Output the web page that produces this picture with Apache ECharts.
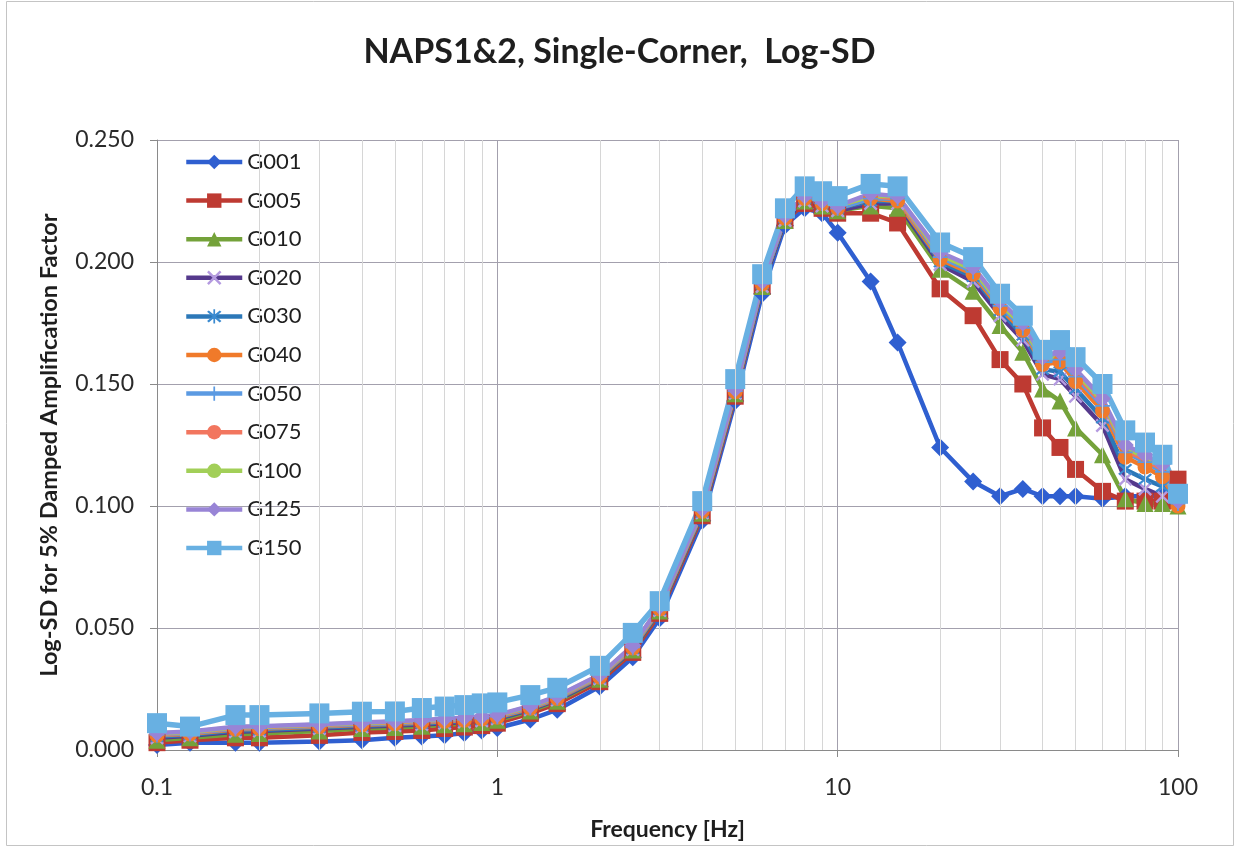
<!DOCTYPE html>
<html>
<head>
<meta charset="utf-8">
<script src="https://cdn.jsdelivr.net/npm/echarts@6/dist/echarts.min.js"></script>
<style>
html,body{margin:0;padding:0;background:#fff;}
#chart{width:1239px;height:848px;}
</style>
</head>
<body>
<div id="chart"></div>
<script>
const freqs = [0.1, 0.125, 0.17, 0.2, 0.3, 0.4, 0.5, 0.6, 0.7, 0.8, 0.9, 1, 1.25, 1.5, 2, 2.5, 3, 4, 5,
  6, 7, 8, 9, 10, 12.5, 15,
  20, 25, 30, 35, 40, 45, 50, 60, 70, 80, 90, 100];

const G001 = [0.002, 0.003, 0.003, 0.003, 0.0035, 0.004, 0.005, 0.0055, 0.006, 0.007, 0.008, 0.009, 0.0125, 0.0165, 0.026, 0.038, 0.054, 0.094, 0.143,
  0.187, 0.215, 0.222, 0.220, 0.212, 0.192, 0.167,
  0.124, 0.110, 0.104, 0.107, 0.104, 0.104, 0.104, 0.103, 0.104, 0.104, 0.104, 0.105];
const G005 = [0.003, 0.004, 0.005, 0.005, 0.006, 0.0072, 0.0076, 0.008, 0.0088, 0.0094, 0.010, 0.011, 0.015, 0.019, 0.028, 0.040, 0.056, 0.096, 0.145,
  0.190, 0.217, 0.224, 0.222, 0.220, 0.220, 0.216,
  0.189, 0.178, 0.160, 0.150, 0.132, 0.124, 0.115, 0.106, 0.102, 0.102, 0.102, 0.111];
const G010 = [0.004, 0.005, 0.0065, 0.0068, 0.0078, 0.0088, 0.0092, 0.0097, 0.0103, 0.0108, 0.0113, 0.0122, 0.0160, 0.0200, 0.0290, 0.0410, 0.0570, 0.0970, 0.1460,
  0.190, 0.217, 0.225, 0.223, 0.221, 0.223, 0.222,
  0.197, 0.188, 0.174, 0.163, 0.148, 0.143, 0.132, 0.121, 0.103, 0.101, 0.101, 0.100];
const G020 = [0.005, 0.0058, 0.0075, 0.0078, 0.0088, 0.0095, 0.0100, 0.0105, 0.0110, 0.0115, 0.0120, 0.0128, 0.0165, 0.0205, 0.0292, 0.0412, 0.0572, 0.0972, 0.1462,
  0.190, 0.217, 0.225, 0.223, 0.221, 0.224, 0.224,
  0.199, 0.192, 0.178, 0.168, 0.154, 0.152, 0.145, 0.133, 0.111, 0.107, 0.104, 0.102];
const G030 = [0.0055, 0.0062, 0.008, 0.0082, 0.0092, 0.0099, 0.0104, 0.0109, 0.0114, 0.0119, 0.0124, 0.0131, 0.0168, 0.0208, 0.0295, 0.0415, 0.0575, 0.0975, 0.1465,
  0.191, 0.218, 0.226, 0.224, 0.222, 0.225, 0.225,
  0.200, 0.194, 0.180, 0.170, 0.156, 0.155, 0.148, 0.136, 0.115, 0.111, 0.108, 0.102];
const G040 = [0.006, 0.0066, 0.0085, 0.0087, 0.0096, 0.0103, 0.0108, 0.0113, 0.0118, 0.0122, 0.0127, 0.0134, 0.0171, 0.0211, 0.0298, 0.0418, 0.0578, 0.0978, 0.1468,
  0.191, 0.218, 0.226, 0.224, 0.222, 0.226, 0.225,
  0.201, 0.195, 0.181, 0.172, 0.158, 0.159, 0.151, 0.139, 0.120, 0.116, 0.112, 0.100];
const G050 = [0.0063, 0.0069, 0.0088, 0.009, 0.0099, 0.0106, 0.0111, 0.0116, 0.0121, 0.0125, 0.013, 0.0137, 0.0174, 0.0214, 0.0301, 0.0421, 0.0581, 0.0981, 0.1471,
  0.191, 0.218, 0.226, 0.224, 0.222, 0.226, 0.226,
  0.202, 0.196, 0.182, 0.173, 0.159, 0.160, 0.153, 0.141, 0.122, 0.118, 0.114, 0.101];
const G075 = [0.0066, 0.0072, 0.0091, 0.0093, 0.0102, 0.0109, 0.0114, 0.0119, 0.0124, 0.0128, 0.0133, 0.014, 0.0177, 0.0217, 0.0304, 0.0424, 0.0584, 0.0984, 0.1474,
  0.192, 0.219, 0.227, 0.225, 0.223, 0.227, 0.226,
  0.203, 0.197, 0.183, 0.174, 0.160, 0.162, 0.154, 0.142, 0.123, 0.119, 0.115, 0.101];
const G100 = [0.0068, 0.0074, 0.0093, 0.0095, 0.0104, 0.0111, 0.0116, 0.0121, 0.0126, 0.013, 0.0135, 0.0142, 0.0179, 0.0219, 0.0306, 0.0426, 0.0586, 0.0986, 0.1476,
  0.192, 0.219, 0.227, 0.225, 0.223, 0.227, 0.227,
  0.203, 0.197, 0.183, 0.174, 0.160, 0.162, 0.155, 0.143, 0.124, 0.120, 0.116, 0.101];
const G125 = [0.007, 0.0076, 0.0095, 0.0097, 0.0106, 0.0113, 0.0118, 0.0123, 0.0128, 0.0132, 0.0137, 0.0144, 0.0181, 0.0221, 0.0308, 0.0428, 0.0588, 0.0988, 0.1478,
  0.192, 0.219, 0.227, 0.225, 0.223, 0.228, 0.227,
  0.204, 0.198, 0.184, 0.175, 0.161, 0.163, 0.156, 0.144, 0.125, 0.121, 0.117, 0.102];
const G150 = [0.011, 0.0096, 0.0143, 0.0143, 0.015, 0.0157, 0.0158, 0.0172, 0.0178, 0.0184, 0.0191, 0.0195, 0.0225, 0.0255, 0.0345, 0.048, 0.061, 0.102, 0.152,
  0.195, 0.222, 0.231, 0.229, 0.227, 0.232, 0.231,
  0.208, 0.202, 0.187, 0.178, 0.164, 0.168, 0.161, 0.150, 0.131, 0.126, 0.121, 0.105];

const seriesNames = ['G001','G005','G010','G020','G030','G040','G050','G075','G100','G125','G150'];
const seriesValues = [G001,G005,G010,G020,G030,G040,G050,G075,G100,G125,G150];

const yTicks = [0, 0.05, 0.10, 0.15, 0.20, 0.25];
const minorGridFreqs = [0.2,0.3,0.4,0.5,0.6,0.7,0.8,0.9, 2,3,4,5,6,7,8,9, 20,30,40,50,60,70,80,90];

const XPATH = 'path://M0,1.2 L1.2,0 L5,3.8 L8.8,0 L10,1.2 L6.2,5 L10,8.8 L8.8,10 L5,6.2 L1.2,10 L0,8.8 L3.8,5 Z';
const ASTPATH = 'path://M0,1.2 L1.2,0 L5,3.8 L8.8,0 L10,1.2 L6.2,5 L10,8.8 L8.8,10 L5,6.2 L1.2,10 L0,8.8 L3.8,5 Z M4.4,-1 L5.6,-1 L5.6,11 L4.4,11 Z';
const PLUSPATH = 'path://M4.4,0 L5.6,0 L5.6,4.4 L10,4.4 L10,5.6 L5.6,5.6 L5.6,10 L4.4,10 L4.4,5.6 L0,5.6 L0,4.4 L4.4,4.4 Z';

const styles = {
  G001: {line:'#2f5fd0', mark:'#2f5fd0', symbol:'diamond', size:18, width:4.5},
  G005: {line:'#be3a32', mark:'#be3a32', symbol:'rect', size:17, width:4.5},
  G010: {line:'#74a23a', mark:'#74a23a', symbol:'triangle', size:17, width:4.5},
  G020: {line:'#55398c', mark:'#b49ae0', symbol:XPATH, size:14, width:4.5},
  G030: {line:'#2c78b8', mark:'#3a8ad0', symbol:ASTPATH, size:14, width:4.5},
  G040: {line:'#f07a2a', mark:'#f07a2a', symbol:'circle', size:15, width:4.5},
  G050: {line:'#5b9ae2', mark:'#5b9ae2', symbol:PLUSPATH, size:15, width:4.5},
  G075: {line:'#f2765f', mark:'#f2765f', symbol:'none', size:0, width:4.5},
  G100: {line:'#a2cf58', mark:'#a2cf58', symbol:'none', size:0, width:4.5},
  G125: {line:'#9884d6', mark:'#9884d6', symbol:'diamond', size:17, width:4.5},
  G150: {line:'#68b0e2', mark:'#68b0e2', symbol:'rect', size:20, width:5.5}
};

const FONT = 'Lato, "Open Sans", sans-serif';

const series = seriesNames.map((name, i) => {
  const st = styles[name];
  return {
    name: name,
    type: 'line',
    data: freqs.map((f, j) => [f, seriesValues[i][j]]),
    symbol: st.symbol,
    symbolSize: st.size,
    showSymbol: st.symbol !== 'none',
    lineStyle: {color: st.line, width: st.width},
    itemStyle: {color: st.mark},
    z: 3,
    animation: false
  };
});

series.unshift({
  name: '__grid',
  type: 'line',
  data: [],
  silent: true,
  z: 1,
  animation: false,
  markLine: {
    silent: true,
    symbol: ['none','none'],
    label: {show: false},
    lineStyle: {color: '#d6d6d6', width: 1, type: 'solid'},
    data: minorGridFreqs.map(f => ({xAxis: f}))
  }
});

const chart = echarts.init(document.getElementById('chart'), null, {renderer: 'canvas'});
chart.setOption({
  backgroundColor: '#ffffff',
  animation: false,
  title: {
    text: 'NAPS1&2, Single-Corner,  Log-SD',
    left: 'center',
    top: 30,
    textStyle: {fontFamily: FONT, fontSize: 34, fontWeight: 'bold', color: '#1e1e1e'}
  },
  graphic: [{
    type: 'rect', shape: {x: 6.5, y: 1.5, width: 1227, height: 844},
    style: {fill: 'none', stroke: '#c4c4c4', lineWidth: 1}, silent: true, z: -10
  }],
  grid: {left: 157, right: 61, top: 140, bottom: 98, containLabel: false},
  legend: {
    data: seriesNames,
    orient: 'vertical',
    left: 184,
    top: 151,
    padding: 0,
    itemWidth: 56,
    itemHeight: 18,
    itemGap: 16.6,
    lineStyle: {width: 4.5},
    textStyle: {fontFamily: FONT, fontSize: 22, color: '#1e1e1e', padding: [0,0,0,0]}
  },
  xAxis: {
    type: 'log',
    logBase: 10,
    min: 0.1,
    max: 100,
    name: 'Frequency [Hz]',
    nameLocation: 'middle',
    nameGap: 68,
    nameTextStyle: {fontFamily: FONT, fontSize: 23, fontWeight: 'bold', color: '#1e1e1e'},
    axisLine: {show: true, onZero: false, lineStyle: {color: '#8a8a8a', width: 1}},
    axisTick: {show: true, length: 7, lineStyle: {color: '#8a8a8a'}},
    axisLabel: {fontFamily: FONT, fontSize: 23, color: '#2a2a2a', margin: 26,
      formatter: v => String(+v.toPrecision(3))},
    splitLine: {show: true, lineStyle: {color: '#a3a0ad', width: 1}},
    minorTick: {show: false},
    minorSplitLine: {show: false}
  },
  yAxis: {
    type: 'value',
    min: yTicks[0],
    max: yTicks[yTicks.length - 1],
    interval: 0.05,
    name: 'Log-SD for 5% Damped Amplification Factor',
    nameLocation: 'middle',
    nameGap: 96,
    nameRotate: 90,
    nameTextStyle: {fontFamily: FONT, fontSize: 23.5, fontWeight: 'bold', color: '#1e1e1e'},
    axisLine: {show: true, lineStyle: {color: '#8a8a8a', width: 1}},
    axisTick: {show: true, length: 7, lineStyle: {color: '#8a8a8a'}},
    axisLabel: {fontFamily: FONT, fontSize: 23, color: '#2a2a2a', margin: 23,
      formatter: v => v.toFixed(3)},
    splitLine: {show: true, lineStyle: {color: '#a3a0ad', width: 1}}
  },
  series: series
});
</script>
</body>
</html>
